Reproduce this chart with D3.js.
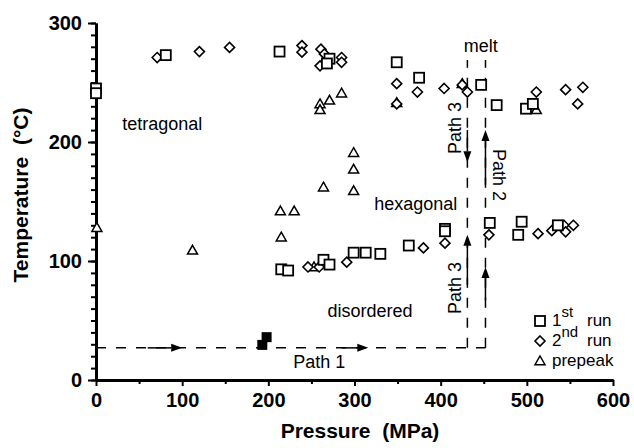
<!DOCTYPE html>
<html><head><meta charset="utf-8">
<script src="https://cdn.jsdelivr.net/npm/d3@7"></script>
<style>
body{margin:0;background:#fff}
svg{display:block}
text{font-family:"Liberation Sans",Arial,Helvetica,sans-serif;fill:#000}
</style>
</head><body>
<svg id="chart" width="634" height="448"></svg>
<script>
// ---------- data ----------
const xTickValues = [0, 100, 200, 300, 400, 500, 600];
const yTickValues = [0, 100, 200, 300];
const xTitle = "Pressure  (MPa)";
const yTitle = "Temperature  (°C)";

// [pressure MPa, temperature °C]
const run1 = [
  [0,245],[0,241],[81,273],[213,276],[271,270],[268,266],[349,267],[375,254],
  [447,248],[465,231],[499,228],[507,232],
  [215,93],[223,92],[264,101],[271,97],[299,107],[313,107],[330,106],[363,113],
  [405,127],[405,125],[457,132],[490,122],[494,133],[536,130]
];
const run2 = [
  [71,271],[120,276],[155,279.5],[239,281],[239,275.5],[261,278],[265,274],[260,264],
  [285,271],[285,267],[349,249],[349,232],[373,242],[404,245],[425,248],[431,242],
  [511,242],[545,244],[565,246],[559,232],
  [246,95],[259,95],[291,99],[380,111],[405,115],[456,122],[513,123],[529,125.5],
  [543,130],[545,124.5],[554,130]
];
const prepeak = [
  [1,128],[112,109],[214,142],[230,142],[215,120],[264,162],[299,191],[299,177],[299,159],
  [260,232],[260,227],[271,235],[285,241],[349,233],[425,249],[511,227],[253,95]
];
const startPoints = [[193,29.5],[198,36]];

// path annotations (data units)
const path1 = {T: 27, from: 0, to: 452};
const meltLines = [431, 452];
const meltTop = 269;
const arrows = [
  [[60,27],[100,27]],
  [[285,27],[316,27]],
  [[431,80],[431,122]],
  [[431,210],[431,183]],
  [[452,67],[452,95]],
  [[452,164],[452,210]]
];
const labels = [
  {text:"tetragonal", P:77, T:210},
  {text:"hexagonal", P:371, T:143},
  {text:"disordered", P:318, T:53},
  {text:"melt", P:446.5, T:275.5}
];
const legendItems = [
  {shape:"square", main:"1", sup:"st", tail:"run"},
  {shape:"diamond", main:"2", sup:"nd", tail:"run"},
  {shape:"triangle", main:"prepeak", sup:"", tail:""}
];

// ---------- drawing ----------
const svg = d3.select("#chart");
const x = d3.scaleLinear().domain([0, 600]).range([96, 613]);
const y = d3.scaleLinear().domain([0, 300]).range([380, 23]);

// axes
svg.append("g").attr("transform", `translate(${x(0)},0)`)
  .call(d3.axisLeft(y).tickValues(d3.range(0, 301, 10)).tickSize(5).tickFormat("").tickSizeOuter(0));
svg.append("g").attr("transform", `translate(${x(0)},0)`)
  .call(d3.axisLeft(y).tickValues(yTickValues).tickSize(8).tickPadding(6).tickSizeOuter(0));
svg.append("g").attr("transform", `translate(0,${y(0)})`)
  .call(d3.axisBottom(x).tickValues(d3.range(50, 600, 100)).tickSize(4).tickFormat("").tickSizeOuter(0));
svg.append("g").attr("transform", `translate(0,${y(0)})`)
  .call(d3.axisBottom(x).tickValues(xTickValues).tickSize(6).tickPadding(7).tickSizeOuter(0));
svg.selectAll(".domain").attr("stroke", "#000").attr("stroke-width", 3);
svg.selectAll(".tick line").attr("stroke", "#000").attr("stroke-width", 2);
svg.selectAll(".tick text").attr("font-size", 20).attr("font-weight", "bold")
  .attr("font-family", '"Liberation Sans",Arial,sans-serif').attr("fill", "#000");

// axis titles
svg.append("text").attr("x", 360).attr("y", 438).attr("text-anchor", "middle")
  .attr("font-size", 21).attr("font-weight", "bold").style("white-space", "pre").text(xTitle);
svg.append("text").attr("transform", "translate(28,195) rotate(-90)").attr("text-anchor", "middle")
  .attr("font-size", 21).attr("font-weight", "bold").style("white-space", "pre").text(yTitle);

// dashed path lines
const dash = "10,10";
svg.append("line").attr("x1", x(path1.from)).attr("x2", x(path1.to))
  .attr("y1", y(path1.T)).attr("y2", y(path1.T))
  .attr("stroke", "#000").attr("stroke-width", 1.5).attr("stroke-dasharray", dash);
meltLines.forEach(P => {
  svg.append("line").attr("x1", x(P)).attr("x2", x(P))
    .attr("y1", y(path1.T)).attr("y2", y(meltTop))
    .attr("stroke", "#000").attr("stroke-width", 1.5).attr("stroke-dasharray", dash);
});

// arrows
arrows.forEach(([a, b]) => {
  const x1 = x(a[0]), y1 = y(a[1]), x2 = x(b[0]), y2 = y(b[1]);
  const ang = Math.atan2(y2 - y1, x2 - x1);
  const L = 11, W = 4;
  const bx = x2 - L * Math.cos(ang), by = y2 - L * Math.sin(ang);
  svg.append("line").attr("x1", x1).attr("y1", y1).attr("x2", bx).attr("y2", by)
    .attr("stroke", "#000").attr("stroke-width", 1.5);
  const px = -Math.sin(ang) * W, py = Math.cos(ang) * W;
  svg.append("path").attr("d", `M${x2},${y2}L${bx+px},${by+py}L${bx-px},${by-py}Z`).attr("fill", "#000");
});

// region labels
labels.forEach(l => {
  svg.append("text").attr("x", x(l.P)).attr("y", y(l.T)).attr("text-anchor", "middle")
    .attr("font-size", 18).text(l.text);
});
svg.append("text").attr("x", x(229)).attr("y", y(10)).attr("font-size", 18).text("Path 1");
svg.append("text").attr("transform", `translate(461,${128}) rotate(-90)`).attr("text-anchor", "middle")
  .attr("font-size", 18).text("Path 3");
svg.append("text").attr("transform", `translate(461,${288}) rotate(-90)`).attr("text-anchor", "middle")
  .attr("font-size", 18).text("Path 3");
svg.append("text").attr("transform", `translate(493,${175}) rotate(90)`).attr("text-anchor", "middle")
  .attr("font-size", 18).text("Path 2");

// markers
const sq = 10, dia = 5, tri = 5;
function square(g, cx, cy, s) {
  return g.append("rect").attr("x", cx - s/2).attr("y", cy - s/2).attr("width", s).attr("height", s);
}
function diamond(g, cx, cy, r) {
  return g.append("path").attr("d", `M${cx},${cy-r}L${cx+r},${cy}L${cx},${cy+r}L${cx-r},${cy}Z`);
}
function triangle(g, cx, cy, r) {
  return g.append("path").attr("d", `M${cx},${cy-r}L${cx+r},${cy+r*0.75}L${cx-r},${cy+r*0.75}Z`);
}
const gm = svg.append("g").attr("fill", "#fff").attr("stroke", "#000");
prepeak.forEach(d => triangle(gm, x(d[0]), y(d[1]), tri).attr("stroke-width", 1.5));
run2.forEach(d => diamond(gm, x(d[0]), y(d[1]), dia).attr("stroke-width", 1.6));
run1.forEach(d => square(gm, x(d[0]), y(d[1]), sq).attr("stroke-width", 1.8));
startPoints.forEach(d => square(gm, x(d[0]), y(d[1]), 10).attr("fill", "#000").attr("stroke", "none"));

// legend
const legY = [326, 346, 366];
legendItems.forEach((it, i) => {
  const cy = legY[i] - 5;
  if (it.shape === "square") square(gm, 540, cy, sq).attr("stroke-width", 1.8);
  if (it.shape === "diamond") diamond(gm, 540, cy, dia).attr("stroke-width", 1.6);
  if (it.shape === "triangle") triangle(gm, 540, cy, tri).attr("stroke-width", 1.5);
  const t = svg.append("text").attr("x", 552).attr("y", legY[i]).attr("font-size", 17);
  t.append("tspan").text(it.main);
  if (it.sup) {
    t.append("tspan").attr("dy", -9).attr("font-size", 15).text(it.sup);
    svg.append("text").attr("x", 587).attr("y", legY[i]).attr("font-size", 17).text(it.tail);
  }
});
</script>
</body></html>
